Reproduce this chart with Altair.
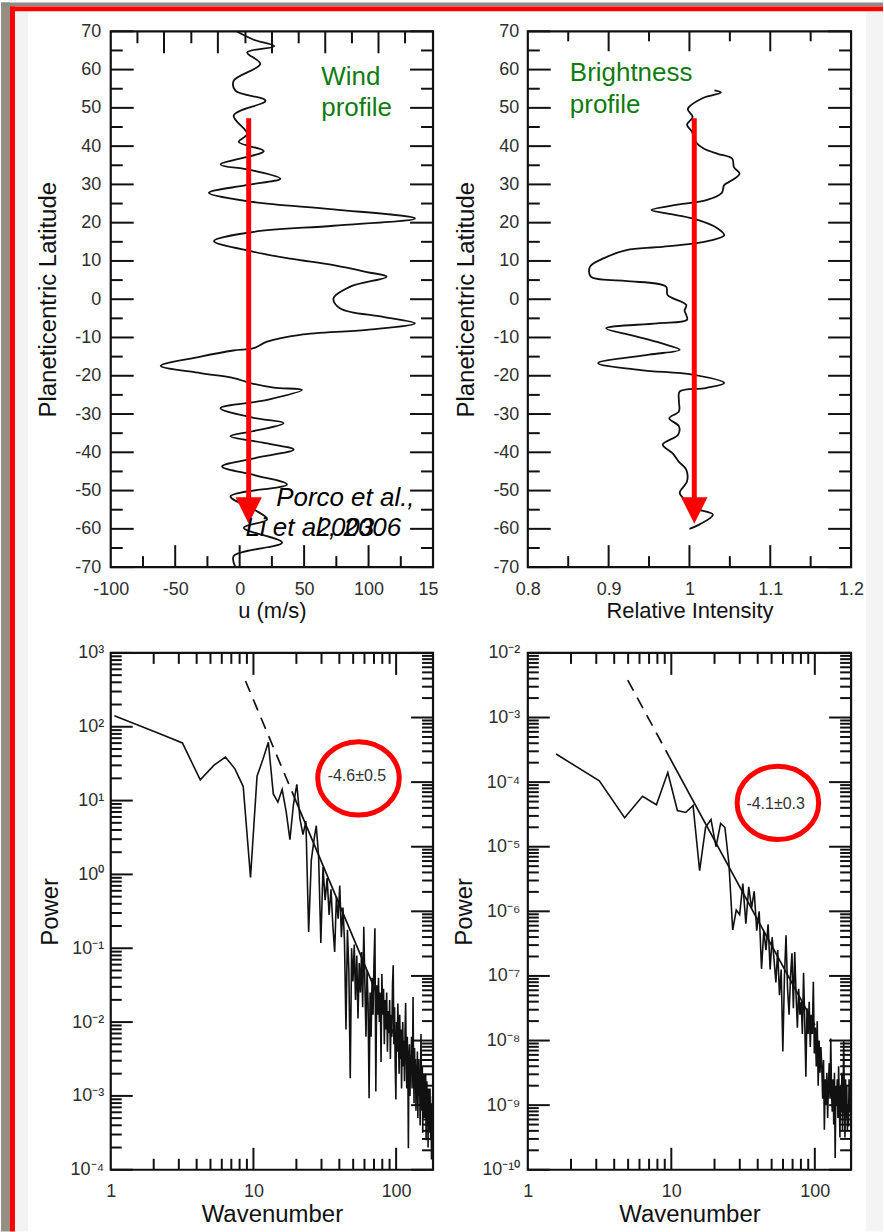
import math
import altair as alt
import pandas as pd

FONT = "Liberation Sans"
INK = "#111111"
LABEL_INK = "#2e2e2e"
GREEN = "#107c10"
RED = "#ff0000"

# ---------------- values ----------------
# Top-left: wind profile along the curve (latitude deg, u m/s)
wind_lat = [70, 67.8, 66.1, 64.5, 61.5, 57.1, 54.5, 51.9, 48.0, 43.2,
            41.1, 38.7, 35.2, 33.8, 31.5, 29.8, 27.8, 25.4, 23.5, 21.1,
            19.2, 17.6, 15.2, 12.4, 10.6, 8.9, 7.1, 5.9, 3.3, 0.2,
            -2.4, -4.6, -6.3, -8.0, -9.3, -11.1, -12.8, -13.4, -15.0, -17.4,
            -19.3, -20.6, -21.9, -23.1, -23.7, -26.3, -28.5, -31.0, -32.4, -34.5,
            -35.8, -37.5, -39.3, -41.5, -43.7, -46.0, -48.4, -51.5, -54.9, -57.5,
            -59.7, -63.6, -67.1, -70]
wind_u = [-2.5, 10.9, 26.9, 5.8, 16.0, -4.6, -3.3, 20.0, -4.6, 5.8,
          -0.7, 18.7, -14.9, 8.0, 31.6, 5.0, -23.9, 10.9, 72.8, 136.0,
          72.8, 10.9, -20.0, 10.9, 39.3, 72.8, 98.7, 114.0, 85.8, 72.8,
          78.0, 111.3, 136.0, 98.7, 47.0, 21.3, 10.9, -5.0, -30.3, -61.3,
          -30.3, -4.6, 8.4, 26.4, 48.4, 21.3, -14.9, 10.9, 34.1, 10.0,
          -7.1, 18.0, 41.9, 12.0, -13.6, 12.0, 36.7, -7.1, 10.9, 21.3,
          3.2, 32.9, -4.6, -3.3]

# Top-right: brightness profile (latitude deg, relative intensity)
bright_lat = [54.6, 54.0, 52.5, 49.7, 47.6, 45.6, 43.8, 41.0, 39.3, 38.0,
              36.7, 34.5, 32.8, 31.0, 29.8, 27.8, 25.9, 24.7, 23.3, 22.3,
              21.1, 18.5, 16.7, 15.3, 14.5, 13.6, 12.8, 10.8, 8.5, 5.9,
              4.8, 3.3, 1.1, -1.5, -3.0, -4.1, -5.4, -6.3, -7.6, -9.5,
              -11.5, -13.2, -14.5, -16.7, -18.5, -19.7, -21.9, -23.2, -24.1, -26.7,
              -29.3, -31.1, -33.2, -35.4, -38.0, -40.2, -42.5, -44.5, -47.6, -50.6,
              -52.5, -54.5, -56.3, -58.9, -60.0]
bright_int = [1.031, 1.039, 1.016, 0.998, 1.004, 0.997, 1.003, 1.008, 1.018, 1.035,
              1.053, 1.055, 1.062, 1.052, 1.043, 1.040, 1.021, 0.985, 0.953, 0.975,
              1.004, 1.035, 1.043, 1.025, 1.004, 0.960, 0.922, 0.895, 0.877, 0.878,
              0.920, 0.971, 0.973, 0.996, 0.994, 0.996, 0.997, 0.960, 0.897, 0.930,
              0.965, 0.988, 0.950, 0.887, 0.940, 1.004, 1.043, 1.020, 0.988, 0.987,
              0.987, 0.975, 0.987, 0.986, 0.967, 0.979, 0.987, 0.996, 0.997, 0.988,
              0.995, 1.004, 1.029, 1.012, 1.000]

# Bottom-left: wind power spectrum, log10(power) at wavenumbers 1.06, 2.12, ...
left_k_step = 1.06
left_log10_power = [
    2.15, 1.92, 1.78, 1.28, 1.48, 1.59, 1.43, 1.19, -0.04, 1.33,
    1.56, 1.79, 1.09, 0.98, 1.15, 0.85, 0.47, 0.95, 1.22, 0.75,
    0.54, 0.72, -0.78, 0.19, 0.45, 0.66, 0.25, -0.93, 0.10, -0.35,
    -0.05, -0.55, -0.20, -0.70, -1.05, -0.30, -0.60, -0.15, -0.85, -0.45,
    -0.90, -2.10, -0.75, -1.30, -2.76, -1.00, -1.45, -0.95, -1.70, -1.10,
    -1.95, -1.20, -1.60, -1.05, -1.80, -0.71, -1.50, -2.20, -1.30, -1.75,
    -3.03, -1.60, -2.20, -1.40, -1.90, -1.20, -0.73, -2.94, -1.50, -1.90,
    -1.40, -2.00, -1.60, -2.54, -1.35, -1.90, -1.55, -2.30, -1.70, -2.10,
    -1.60, -2.40, -1.85, -2.15, -1.70, -2.50, -1.90, -2.20, -1.50, -1.23,
    -2.30, -1.80, -2.60, -3.05, -2.00, -2.40, -1.75, -2.20, -2.70, -1.90,
    -2.50, -2.10, -2.90, -2.30, -2.00, -2.60, -2.25, -2.80, -2.10, -1.74,
    -2.40, -2.90, -2.20, -2.60, -3.71, -2.50, -2.30, -3.00, -2.45, -2.70,
    -2.20, -2.90, -2.50, -1.66, -2.60, -3.10, -2.35, -2.80, -2.50, -3.20,
    -2.60, -2.90, -2.40, -3.30, -2.70, -2.50, -3.00, -2.80, -3.40, -2.60,
    -2.16, -2.90, -3.20, -2.60, -3.50, -2.80, -3.10, -2.70, -3.30, -2.90,
    -3.20, -2.70, -3.60, -3.00, -2.80, -3.40, -3.10, -3.70, -2.90, -3.30,
    -3.00, -3.50, -2.90, -3.30, -3.60, -3.10, -3.86, -3.20, -3.40, -3.00,
]
# Bottom-right: brightness power spectrum, log10(power) at wavenumbers 1.575, 3.15, ...
right_k_step = 1.575
right_log10_power = [
    -3.565, -3.98, -4.55, -4.22, -4.35, -3.85, -4.44, -4.47, -4.36, -5.37,
    -4.70, -4.58, -5.00, -4.64, -4.70, -5.26, -6.29, -5.98, -6.05, -5.57,
    -6.19, -5.62, -5.95, -5.69, -6.30, -6.00, -6.89, -6.30, -6.60, -6.20,
    -6.90, -6.40, -6.75, -7.10, -6.60, -7.30, -6.90, -8.17, -7.00, -6.37,
    -7.20, -7.60, -7.00, -6.65, -7.50, -6.63, -7.30, -7.80, -7.20, -7.60,
    -7.40, -7.90, -6.95, -7.70, -8.56, -7.50, -7.90, -7.40, -8.10, -7.60,
    -7.90, -7.09, -8.20, -7.80, -8.40, -7.70, -8.70, -8.00, -8.50, -8.10,
    -8.40, -8.90, -8.30, -9.38, -8.60, -9.00, -8.50, -9.20, -8.70, -8.35,
    -8.90, -7.97, -8.80, -9.10, -8.60, -9.30, -8.50, -9.82, -8.70, -9.00,
    -8.60, -9.20, -8.40, -8.90, -9.50, -8.70, -9.10, -8.50, -9.40, -8.80,
    -8.00, -9.00, -9.50, -8.60, -9.20, -8.70, -9.40, -9.00, -9.33, -8.60,
    -9.10, -8.80,
]
# power-law fits (dashed part, then solid part)
left_fit_k = [8.8, 19.5, 100.0]
left_fit_log10 = [2.62, 1.03, -2.24]
right_fit_k = [4.97, 9.68, 100.0]
right_fit_log10 = [-2.42, -3.61, -7.76]

# annotations
arrow_wind_u = [7.0]
arrow_bright_i = [1.006]
arrow_lat_start = [47.3]
arrow_lat_end = [-53.0]
arrow_head_lat = [-55.2]
wind_label_text = ["Wind", "profile"]
wind_label_u = [63.3, 63.3]
wind_label_lat = [56.0, 48.0]
bright_label_text = ["Brightness", "profile"]
bright_label_i = [0.852, 0.852]
bright_label_lat = [56.9, 48.6]
ref_center_text = ["Porco et al.,", "2003"]
ref_center_u = [82.0, 82.0]
ref_center_lat = [-54.1, -61.9]
ref_left_text = ["Li et al., 2006"]
ref_left_u = [4.5]
ref_left_lat = [-61.9]
slope_text = ["-4.6\u00b10.5", "-4.1\u00b10.3"]
slope_left_k, slope_left_p = [53.1], [21.3]
slope_right_k, slope_right_p = [53.3], [4.6e-5]
circle_left_k, circle_left_p = [54.5], [20.0]
circle_right_k, circle_right_p = [55.3], [4.77e-5]

assert len(wind_lat) == len(wind_u)
assert len(bright_lat) == len(bright_int)

# ---------------- geometry ----------------
W_L, W_R = 323, 324
H_T, H_B = 537, 518

sc_u = alt.Scale(domain=[-100, 150], nice=False, zero=False)
sc_lat = alt.Scale(domain=[-70, 70], nice=False, zero=False)
sc_int = alt.Scale(domain=[0.8, 1.2], nice=False, zero=False)
sc_blx = alt.Scale(type="log", domain=[1, 181.4], nice=False)
sc_bly = alt.Scale(type="log", domain=[1e-4, 1e3], nice=False)
sc_brx = alt.Scale(type="log", domain=[1, 178.9], nice=False)
sc_bry = alt.Scale(type="log", domain=[1e-10, 1e-2], nice=False)

SUP = str.maketrans("-0123456789", "\u207b\u2070\u00b9\u00b2\u00b3\u2074\u2075\u2076\u2077\u2078\u2079")


def pow_expr(exps):
    s = "''"
    for e in exps:
        s = f"(round(log(datum.value)/LN10)=={e})?'10{str(e).translate(SUP)}':({s})"
    return s


PLAIN = "'' + datum.value"


def x_axis(values, title, title_y, size, expr=PLAIN):
    return alt.Axis(values=values, title=title, orient="bottom", ticks=False, tickSize=0,
                    domain=False, grid=False, zindex=1, labelFont=FONT, labelFontSize=18,
                    labelColor=LABEL_INK, labelPadding=13, labelFlush=False, labelOverlap=False,
                    labelExpr=expr, titleFont=FONT, titleFontSize=size, titleFontWeight="normal",
                    titleColor=INK, titleY=title_y, titleBaseline="alphabetic")


def y_axis(values, title, title_x, pad, H, expr=PLAIN):
    return alt.Axis(values=values, title=title, orient="left", ticks=False, tickSize=0,
                    domain=False, grid=False, zindex=1, labelFont=FONT, labelFontSize=18,
                    labelColor=LABEL_INK, labelPadding=pad, labelFlush=False, labelOverlap=False,
                    labelExpr=expr, titleFont=FONT, titleFontSize=24, titleFontWeight="normal",
                    titleColor=INK, titleX=title_x, titleY=H / 2, titleAngle=270,
                    titleAlign="center", titleBaseline="alphabetic")


def one():
    return pd.DataFrame({"a": [0]})


def px_rect(x0, x1, y0, y1, color):
    return alt.Chart(one()).mark_rect(color=color, strokeWidth=0).encode(
        x=alt.value(x0), x2=alt.value(x1), y=alt.value(y0), y2=alt.value(y1))


def frame(W, H):
    return alt.Chart(one()).mark_rect(fillOpacity=0, stroke=INK, strokeWidth=2.2).encode(
        x=alt.value(0), x2=alt.value(W), y=alt.value(0), y2=alt.value(H))


class Panel:
    """Scales and axes shared by every layer of one panel."""

    def __init__(self, xscale, yscale, xaxis, yaxis, W, H):
        self.xs, self.ys, self.xa, self.ya, self.W, self.H = xscale, yscale, xaxis, yaxis, W, H

    def X(self, f):
        return alt.X(f, scale=self.xs, axis=self.xa)

    def Y(self, f):
        return alt.Y(f, scale=self.ys, axis=self.ya)

    def ticks(self, vals, side, length):
        df = pd.DataFrame({"v": list(vals)})
        base = alt.Chart(df).mark_rule(color=INK, strokeWidth=2)
        W, H = self.W, self.H
        if side == "left":
            return base.encode(y=self.Y("v:Q"), x=alt.value(0), x2=alt.value(length))
        if side == "right":
            return base.encode(y=self.Y("v:Q"), x=alt.value(W), x2=alt.value(W - length))
        if side == "bottom":
            return base.encode(x=self.X("v:Q"), y=alt.value(H), y2=alt.value(H - length))
        return base.encode(x=self.X("v:Q"), y=alt.value(0), y2=alt.value(length))

    def texts(self, xs, ys, labels, align, size, color, style="normal", baseline="alphabetic"):
        df = pd.DataFrame({"x": xs, "y": ys, "t": labels})
        return alt.Chart(df).mark_text(align=align, baseline=baseline, font=FONT, fontSize=size,
                                       color=color, fontStyle=style).encode(
            x=self.X("x:Q"), y=self.Y("y:Q"), text="t:N")

    def arrow(self, xval):
        df = pd.DataFrame({"x": xval, "y0": arrow_lat_start, "y1": arrow_lat_end, "yh": arrow_head_lat})
        shaft = alt.Chart(df).mark_rule(color=RED, strokeWidth=5).encode(
            x=self.X("x:Q"), y=self.Y("y0:Q"), y2="y1:Q")
        head = alt.Chart(df).mark_point(shape="M-1,-1L1,-1L0,1Z", size=700, filled=True, color=RED,
                                        opacity=1, strokeWidth=0).encode(
            x=self.X("x:Q"), y=self.Y("yh:Q"))
        return [shaft, head]

    def ellipse(self, k, p):
        df = pd.DataFrame({"k": k, "p": p})
        return alt.Chart(df).mark_point(shape="M-1,0A1,0.9,0,1,1,1,0A1,0.9,0,1,1,-1,0Z", size=6675,
                                        filled=False, stroke=RED, strokeWidth=5, opacity=1).encode(
            x=self.X("k:Q"), y=self.Y("p:Q"))


lat_major = list(range(-70, 71, 10))
lat_minor = list(range(-65, 66, 10))

# ---------------- top-left ----------------
P = Panel(sc_u, sc_lat, x_axis([-100, -50, 0, 50, 100, 150], "u (m/s)", 51, 22),
          y_axis(lat_major, "Planeticentric Latitude", -55, 10, H_T), W_L, H_T)
df_wind = pd.DataFrame({"i": range(len(wind_lat)), "lat": wind_lat, "u": wind_u})
wind_line = alt.Chart(df_wind).mark_line(color=INK, strokeWidth=1.8, interpolate="catmull-rom").encode(
    x=P.X("u:Q"), y=P.Y("lat:Q"), order=alt.Order("i:Q"))

tl_top_major = [-58.7, -16.9, 25.1, 66.4, 107.7]
tl_top_minor = [-79.3, -37.5, 4.5, 45.8, 87.1, 128.3]
tl_layers = [
    px_rect(-110, 774, -29, 1203, "white"),
    px_rect(-96, -83, -20, 1203, "#f3f3f3"),
    px_rect(757, 774, -20, 1203, "#f4f4f4"),
    px_rect(-110, -101, -29, 1203, "#968e83"),
    px_rect(-110, 774, -29, -25, "#8e8a84"),
    px_rect(-101, 774, -25, -20, RED),
    px_rect(-101, -96, -25, 1203, RED),
    wind_line,
    P.ticks(lat_major, "left", 23),
    P.ticks(lat_minor, "left", 12),
    P.ticks(lat_major, "right", 23),
    P.ticks(lat_minor, "right", 12),
    P.ticks([-50, 0, 50, 100], "bottom", 22),
    P.ticks([-75, -25, 25, 75, 125], "bottom", 11),
    P.ticks(tl_top_major, "top", 22),
    P.ticks(tl_top_minor, "top", 12),
    frame(W_L, H_T),
] + P.arrow(arrow_wind_u) + [
    P.texts(wind_label_u, wind_label_lat, wind_label_text, "left", 26, GREEN),
    P.texts(ref_center_u, ref_center_lat, ref_center_text, "center", 26, "#000000", "italic"),
    P.texts(ref_left_u, ref_left_lat, ref_left_text, "left", 26, "#000000", "italic"),
]
tl = alt.layer(*tl_layers).properties(width=W_L, height=H_T)

# ---------------- top-right ----------------
Q = Panel(sc_int, sc_lat, x_axis([0.8, 0.9, 1.0, 1.1, 1.2], "Relative Intensity", 51, 22),
          y_axis(lat_major, "Planeticentric Latitude", -54, 9, H_T), W_R, H_T)
df_bright = pd.DataFrame({"i": range(len(bright_lat)), "lat": bright_lat, "I": bright_int})
bright_line = alt.Chart(df_bright).mark_line(color=INK, strokeWidth=1.8, interpolate="catmull-rom").encode(
    x=Q.X("I:Q"), y=Q.Y("lat:Q"), order=alt.Order("i:Q"))
tr_layers = [
    px_rect(-90, -62, 540, 578, "white"),
    bright_line,
    Q.ticks(lat_major, "left", 23),
    Q.ticks(lat_minor, "left", 12),
    Q.ticks(lat_major, "right", 23),
    Q.ticks(lat_minor, "right", 12),
    Q.ticks([0.9, 1.0, 1.1], "bottom", 22),
    Q.ticks([0.85, 0.95, 1.05, 1.15], "bottom", 11),
    Q.ticks([0.9, 1.0, 1.1], "top", 20),
    Q.ticks([0.85, 0.95, 1.05, 1.15], "top", 10),
    frame(W_R, H_T),
] + Q.arrow(arrow_bright_i) + [
    Q.texts(bright_label_i, bright_label_lat, bright_label_text, "left", 26, GREEN),
]
tr = alt.layer(*tr_layers).properties(width=W_R, height=H_T)


# ---------------- spectra ----------------
def spectrum_panel(step, logs, fit_k, fit_log, xscale, yscale, W, exps, ytitle_x, ypad,
                   right_major, right_minor, txt, txt_k, txt_p, c_k, c_p):
    S = Panel(xscale, yscale, x_axis([1, 10, 100], "Wavenumber", 52, 24),
              y_axis([10.0 ** e for e in exps], "Power", ytitle_x, ypad, H_B, pow_expr(exps)), W, H_B)
    ks = [round(step * (n + 1), 3) for n in range(len(logs))]
    df = pd.DataFrame({"k": ks, "p": [10 ** v for v in logs]})
    line = alt.Chart(df).mark_line(color=INK, strokeWidth=1.6, clip=True).encode(
        x=S.X("k:Q"), y=S.Y("p:Q"))
    fit = pd.DataFrame({"k": fit_k, "p": [10 ** v for v in fit_log]})
    dashed = alt.Chart(fit.iloc[0:2]).mark_line(color=INK, strokeWidth=1.7, strokeDash=[12, 8]).encode(
        x=S.X("k:Q"), y=S.Y("p:Q"))
    solid = alt.Chart(fit.iloc[1:3]).mark_line(color=INK, strokeWidth=1.7).encode(
        x=S.X("k:Q"), y=S.Y("p:Q"))
    y_major = [10.0 ** e for e in exps]
    y_minor = [m * 10.0 ** e for e in exps[:-1] for m in range(2, 10)]
    x_major = [10, 100]
    x_minor = [m * 10.0 ** e for e in (0, 1) for m in range(2, 10)]
    layers = [
        line, dashed, solid,
        S.ticks(y_major, "left", 22),
        S.ticks(y_minor, "left", 11),
        S.ticks(right_major, "right", 22),
        S.ticks(right_minor, "right", 11),
        S.ticks(x_major, "bottom", 22),
        S.ticks(x_minor, "bottom", 11),
        S.ticks(x_major, "top", 22),
        S.ticks(x_minor, "top", 11),
        frame(W, H_B),
        S.ellipse(c_k, c_p),
        S.texts(txt_k, txt_p, [txt], "center", 16, "#333333", baseline="middle"),
    ]
    return alt.layer(*layers).properties(width=W, height=H_B)


bl_exps = list(range(-4, 4))
br_exps = list(range(-10, -1))
# the right-hand axis of the lower-left panel repeats the lower-right panel's decade spacing
bl_right_major = [10 ** (3 + 7 / 8 * (2 + e)) for e in br_exps]
bl_right_minor = [10 ** (3 + 7 / 8 * (2 + e + math.log10(m))) for e in br_exps[:-1] for m in range(2, 10)]
br_right_major = [10.0 ** e for e in br_exps]
br_right_minor = [m * 10.0 ** e for e in br_exps[:-1] for m in range(2, 10)]

bl = spectrum_panel(left_k_step, left_log10_power, left_fit_k, left_fit_log10, sc_blx, sc_bly, W_L,
                    bl_exps, -53, 7, bl_right_major, bl_right_minor, slope_text[0],
                    slope_left_k, slope_left_p, circle_left_k, circle_left_p)
br = spectrum_panel(right_k_step, right_log10_power, right_fit_k, right_fit_log10, sc_brx, sc_bry, W_R,
                    br_exps, -56, 8, br_right_major, br_right_minor, slope_text[1],
                    slope_right_k, slope_right_p, circle_right_k, circle_right_p)

chart = alt.concat(tl, tr, bl, br, columns=2, spacing={"row": 86, "column": 95},
                   bounds="flush", align="each").properties(
    padding=0, background="white").configure_view(stroke="transparent")

chart.save("out.html", embed_options={"renderer": "svg", "actions": False})
